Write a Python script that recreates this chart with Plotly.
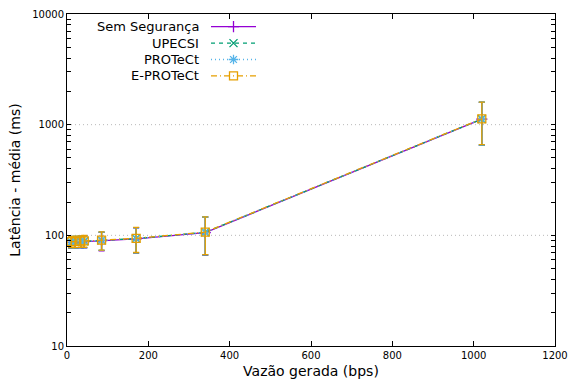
import plotly.graph_objects as go

# Data (x: generated throughput in bps, y: mean latency in ms, err: +/- ms)
vazao = [10.2, 20.4, 34.0, 42.5, 85.0, 170.0, 340.0, 1020.0]

sem_seg_y = [86.5, 87.0, 87.5, 88.0, 89.5, 93.0, 106.0, 1120.0]
sem_seg_err = [10.0, 10.5, 10.5, 11.0, 17.0, 24.0, 40.0, 470.0]

upecsi_y = [87.0, 87.5, 88.0, 88.5, 90.0, 93.5, 106.5, 1125.0]
upecsi_err = [10.0, 10.5, 10.5, 11.0, 17.0, 24.0, 40.0, 470.0]

protect_y = [87.0, 87.5, 88.0, 88.5, 90.0, 93.5, 106.5, 1125.0]
protect_err = [10.0, 10.5, 10.5, 11.0, 17.0, 24.0, 40.0, 470.0]

eprotect_y = [87.5, 88.0, 88.5, 89.0, 90.5, 94.0, 107.0, 1130.0]
eprotect_err = [10.0, 10.5, 10.5, 11.0, 17.0, 24.0, 40.0, 470.0]

series_names = ["Sem Segurança", "UPECSI", "PROTeCt", "E-PROTeCt"]
series_y = [sem_seg_y, upecsi_y, protect_y, eprotect_y]
series_err = [sem_seg_err, upecsi_err, protect_err, eprotect_err]
colors = ["#9400D3", "#009E73", "#56B4E9", "#E69F00"]
dashes = ["solid", "4px,4px", "1px,3px", "6px,3px,1px,3px"]
symbols = ["cross-thin-open", "x-thin-open", "asterisk-open", "square-open"]

x_ticks = [0, 200, 400, 600, 800, 1000, 1200]
y_ticks = [10, 100, 1000, 10000]
y_minor = [m * 10 ** k for k in (1, 2, 3) for m in range(2, 10)]

FONT = "DejaVu Sans"

# legend geometry (gnuplot style key: right-aligned text, sample on the right)
leg_x = (201 - 67) / 488
row0 = 1 - (26.7 - 14) / 332
row_step = 16.4 / 332
legend_ids = ["legend", "legend2", "legend3", "legend4"]

fig = go.Figure()

# dotted horizontal grid at the major y ticks
for v in y_ticks[1:-1]:
    fig.add_hline(y=v, line=dict(color="#b8b8b8", width=1, dash="1px,3px"), layer="below")

for i, (name, ys, errs, c, d, s) in enumerate(
        zip(series_names, series_y, series_err, colors, dashes, symbols)):
    fig.add_trace(go.Scatter(
        x=vazao, y=ys, name=" ", mode="lines+markers", legend=legend_ids[i],
        line=dict(color=c, width=1.3, dash=d),
        marker=dict(symbol=s, size=8, color=c, line=dict(color=c, width=1.3)),
        error_y=dict(type="data", array=errs, visible=True, color=c,
                     thickness=1.3, width=3),
    ))
    fig.add_annotation(
        x=leg_x, y=row0 - i * row_step, xref="paper", yref="paper",
        text=name, showarrow=False, xanchor="right", yanchor="middle",
        font=dict(family=FONT, size=13, color="black"),
    )

legend_common = dict(
    xanchor="left", yanchor="middle", bgcolor="rgba(0,0,0,0)",
    font=dict(family=FONT, size=9), itemwidth=45, itemclick=False,
)
legend_layout = {}
for i, lid in enumerate(legend_ids):
    legend_layout[lid] = dict(x=(206 - 67) / 488, y=row0 - i * row_step, **legend_common)

all_y_ticks = sorted(y_ticks + y_minor)
all_y_text = [str(v) if v in y_ticks else "" for v in all_y_ticks]

fig.update_layout(
    width=570, height=383,
    margin=dict(l=67, r=15, t=14, b=37),
    paper_bgcolor="white", plot_bgcolor="white",
    font=dict(family=FONT, size=10, color="black"),
    showlegend=True,
    **legend_layout,
    xaxis=dict(
        range=[0, 1200], tickvals=x_ticks, ticktext=[str(v) for v in x_ticks],
        ticks="inside", ticklen=5, tickcolor="black", mirror="ticks",
        showline=True, linecolor="black", linewidth=1,
        showgrid=False, zeroline=False, automargin=False,
        tickfont=dict(family=FONT, size=10),
        title=dict(text="Vazão gerada (bps)", font=dict(family=FONT, size=14), standoff=6),
    ),
    yaxis=dict(
        type="log", range=[1, 4], tickmode="array", tickvals=all_y_ticks,
        ticktext=all_y_text,
        ticks="inside", ticklen=4, tickcolor="black", tickwidth=1, mirror="ticks",
        showline=True, linecolor="black", linewidth=1,
        showgrid=False, zeroline=False, automargin=False,
        tickfont=dict(family=FONT, size=10),
        title=dict(text="Latência - média (ms)", font=dict(family=FONT, size=14), standoff=8),
    ),
)

fig.write_html("out.html")
